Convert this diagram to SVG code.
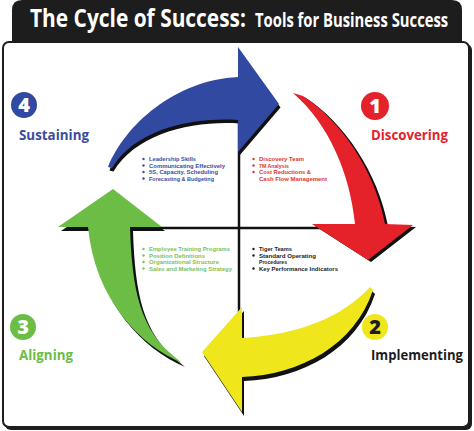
<svg xmlns="http://www.w3.org/2000/svg" width="474" height="431" viewBox="0 0 474 431">
<style>
.title{font-family:"Open Sans","Liberation Sans",sans-serif;font-weight:700;fill:#fff}
.lbl{font-family:"Open Sans","Liberation Sans",sans-serif;font-weight:700;font-size:14px}
.num{font-family:"Open Sans","Liberation Sans",sans-serif;font-weight:800;font-size:20px;text-anchor:middle}
.li{font-family:"Liberation Sans",Arial,sans-serif;font-weight:700;font-size:5.6px}
.shadow{fill:#111}
.axis{stroke:#111;stroke-width:2.5;fill:none}
</style>
<rect width="474" height="431" fill="#fff"/>
<g id="frame">
  <path d="M12,44 V10 Q12,0 22,0 H452 Q462,0 462,10 V44 Z" fill="#1d1d1d"/>
  <rect x="5" y="44" width="467" height="386" rx="6" fill="#1d1d1d"/>
  <rect x="3" y="42" width="466" height="385" rx="6" fill="#fff" stroke="#1d1d1d" stroke-width="2"/>
</g>
<g id="title">
  <text class="title" transform="translate(30,27) scale(0.82,1)" x="0" y="0" font-size="25.5">The Cycle of Success:</text>
  <text class="title" transform="translate(255,27) scale(0.78,1)" x="0" y="0" font-size="19">Tools for Business Success</text>
</g>
<g id="connectors">
  <line class="axis" x1="239" y1="100" x2="239" y2="345"/>
  <line class="axis" x1="120" y1="228" x2="360" y2="228"/>
</g>
<g id="arrow-blue">
  <path class="shadow" transform="translate(1.5,3.5)" d="M108,167 C125,125 175,80 238,77 L238,47 L279,104 L238,152 L238,120 C190,117 135,130 112,168 Z"/>
  <path fill="#3149a0" d="M108,167 C125,125 175,80 238,77 L238,47 L279,104 L238,152 L238,120 C190,117 135,130 112,168 Z"/>
</g>
<g id="arrow-red">
  <path class="shadow" transform="translate(3,2)" d="M293,93 L303,96 C340,120 375,170 385,224 L413,225 L368,260 L312,224 L355,224 C350,175 330,125 293,93 Z"/>
  <path fill="#e5222a" d="M293,93 L303,96 C340,120 375,170 385,224 L413,225 L368,260 L312,224 L355,224 C350,175 330,125 293,93 Z"/>
</g>
<g id="arrow-yellow">
  <path class="shadow" transform="translate(2,4)" d="M370,287 C345,315 300,335 242,338 L242,307 L202,352 L242,412 L242,377 C300,375 355,345 373,290 Z"/>
  <path fill="#efe71c" d="M370,287 C345,315 300,335 242,338 L242,307 L202,352 L242,412 L242,377 C300,375 355,345 373,290 Z"/>
</g>
<g id="arrow-green">
  <path class="shadow" transform="translate(3,4)" d="M113,189 L162,227 L130,227 C132,290 140,330 176,358 L182,363 C140,345 95,300 88,227 L58,227 Z"/>
  <path fill="#6cbd45" d="M113,189 L162,227 L130,227 C132,290 140,330 176,358 L182,363 C140,345 95,300 88,227 L58,227 Z"/>
</g>
<g id="step-1">
  <circle cx="375" cy="106" r="14" fill="#e5222a"/>
  <text class="num" x="375" y="113" fill="#fff">1</text>
  <text class="lbl" x="371" y="140" fill="#e5222a" textLength="77" lengthAdjust="spacingAndGlyphs">Discovering</text>
</g>
<g id="step-2">
  <circle cx="375" cy="327" r="13" fill="#efe71c"/>
  <text class="num" x="375" y="334" fill="#1d1d1d">2</text>
  <text class="lbl" x="371" y="360" fill="#1d1d1d" textLength="92" lengthAdjust="spacingAndGlyphs">Implementing</text>
</g>
<g id="step-3">
  <circle cx="23" cy="327" r="13" fill="#6cbd45"/>
  <text class="num" x="23" y="334" fill="#fff">3</text>
  <text class="lbl" x="19" y="360" fill="#6cbd45" textLength="54" lengthAdjust="spacingAndGlyphs">Aligning</text>
</g>
<g id="step-4">
  <circle cx="24" cy="105" r="13" fill="#3149a0"/>
  <text class="num" x="24" y="112" fill="#fff">4</text>
  <text class="lbl" x="19" y="140" fill="#3b4c9e" textLength="70" lengthAdjust="spacingAndGlyphs">Sustaining</text>
</g>
<g id="list-sustaining" fill="#3b4c9e">
  <circle cx="143.5" cy="159" r="1.2"/><text class="li" x="149" y="161" textLength="47" lengthAdjust="spacingAndGlyphs">Leadership Skills</text>
  <circle cx="143.5" cy="165.5" r="1.2"/><text class="li" x="149" y="167.5" textLength="76" lengthAdjust="spacingAndGlyphs">Communicating Effectively</text>
  <circle cx="143.5" cy="172" r="1.2"/><text class="li" x="149" y="174" textLength="69" lengthAdjust="spacingAndGlyphs">5S, Capacity, Scheduling</text>
  <circle cx="143.5" cy="178.5" r="1.2"/><text class="li" x="149" y="180.5" textLength="65" lengthAdjust="spacingAndGlyphs">Forecasting &amp; Budgeting</text>
</g>
<g id="list-discovering" fill="#e0352c">
  <circle cx="253.5" cy="159" r="1.2"/><text class="li" x="259" y="161" textLength="45" lengthAdjust="spacingAndGlyphs">Discovery Team</text>
  <circle cx="253.5" cy="165.5" r="1.2"/><text class="li" x="259" y="167.5" textLength="30" lengthAdjust="spacingAndGlyphs">7M Analysis</text>
  <circle cx="253.5" cy="172" r="1.2"/><text class="li" x="259" y="174" textLength="52" lengthAdjust="spacingAndGlyphs">Cost Reductions &amp;</text>
  <text class="li" x="259" y="180.5" textLength="68" lengthAdjust="spacingAndGlyphs">Cash Flow Management</text>
</g>
<g id="list-aligning" fill="#7cc257">
  <circle cx="143.5" cy="249" r="1.2"/><text class="li" x="149" y="251" textLength="81" lengthAdjust="spacingAndGlyphs">Employee Training Programs</text>
  <circle cx="143.5" cy="255.5" r="1.2"/><text class="li" x="149" y="257.5" textLength="56" lengthAdjust="spacingAndGlyphs">Position Definitions</text>
  <circle cx="143.5" cy="262" r="1.2"/><text class="li" x="149" y="264" textLength="70" lengthAdjust="spacingAndGlyphs">Organizational Structure</text>
  <circle cx="143.5" cy="268.5" r="1.2"/><text class="li" x="149" y="270.5" textLength="83" lengthAdjust="spacingAndGlyphs">Sales and Marketing Strategy</text>
</g>
<g id="list-implementing" fill="#1d1d1d">
  <circle cx="253.5" cy="249" r="1.2"/><text class="li" x="259" y="251" textLength="33" lengthAdjust="spacingAndGlyphs">Tiger Teams</text>
  <circle cx="253.5" cy="255.5" r="1.2"/><text class="li" x="259" y="257.5" textLength="57" lengthAdjust="spacingAndGlyphs">Standard Operating</text>
  <text class="li" x="259" y="264" textLength="28" lengthAdjust="spacingAndGlyphs">Procedures</text>
  <circle cx="253.5" cy="268.5" r="1.2"/><text class="li" x="259" y="270.5" textLength="79" lengthAdjust="spacingAndGlyphs">Key Performance Indicators</text>
</g>
</svg>
